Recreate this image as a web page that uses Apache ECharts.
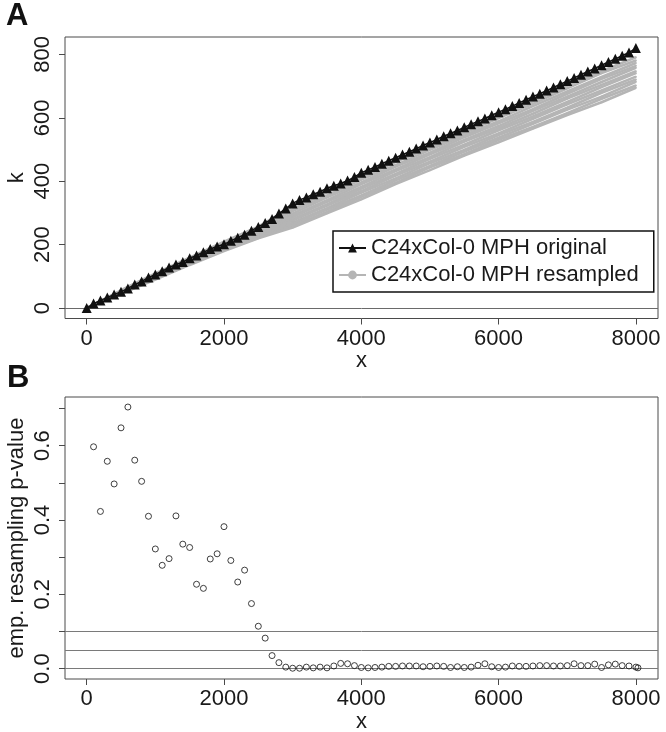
<!DOCTYPE html>
<html>
<head>
<meta charset="utf-8">
<script src="https://cdn.jsdelivr.net/npm/echarts@6/dist/echarts.min.js"></script>
<style>
html,body{margin:0;padding:0;background:#fff;}
#chart{width:666px;height:732px;}
</style>
</head>
<body>
<div id="chart"></div>
<script>
// ---------- Panel A data ----------
const xOriginal = [0,100,200,300,400,500,600,700,800,900,1000,1100,1200,1300,1400,1500,1600,1700,1800,1900,
  2000,2100,2200,2300,2400,2500,2600,2700,2800,2900,3000,3100,3200,3300,3400,3500,3600,3700,3800,3900,
  4000,4100,4200,4300,4400,4500,4600,4700,4800,4900,5000,5100,5200,5300,5400,5500,5600,5700,5800,5900,
  6000,6100,6200,6300,6400,6500,6600,6700,6800,6900,7000,7100,7200,7300,7400,7500,7600,7700,7800,7900,8000];
const kOriginal = [0,14,24,33,43,51,62,74,84,96,106,116,128,137,145,157,166,176,186,194,
  201,212,222,231,244,256,268,281,298,314,330,341,349,359,367,378,386,393,402,413,
  427,436,445,455,465,474,484,493,503,513,522,532,542,551,560,570,580,589,598,608,
  618,627,637,647,657,667,676,686,696,706,716,726,736,746,756,766,776,786,796,806,820];

const xResampled = [0,500,1000,1500,2000,2500,3000,3500,4000,4500,5000,5500,6000,6500,7000,7500,8000];
const kResampled = [
  [0,56,109,159,209,257,321,372,419,467,513,561,606,652,701,747,791],
  [0,54,106,157,205,252,311,365,411,461,505,552,599,644,693,741,781],
  [0,53,105,153,203,249,306,355,405,451,499,545,589,637,683,729,773],
  [0,52,103,152,199,243,298,349,396,446,490,539,583,627,676,723,764],
  [0,51,101,150,198,241,291,340,391,437,485,530,574,622,667,713,758],
  [0,50,100,149,195,238,287,335,382,432,476,525,567,613,661,704,747],
  [0,50,98,146,192,234,280,327,377,423,471,515,561,604,650,697,741],
  [0,49,97,145,190,232,276,323,369,418,462,509,551,597,643,686,730],
  [0,48,96,142,187,229,269,315,364,409,457,499,546,587,632,679,721],
  [0,47,94,141,185,226,266,311,355,403,448,494,537,581,626,667,714],
  [0,46,92,138,183,222,260,303,351,395,444,485,531,571,615,660,702],
  [0,45,90,136,180,220,254,299,343,391,435,481,523,566,609,649,695]
];

// ---------- Panel B data ----------
const xPval = [100,200,300,400,500,600,700,800,900,1000,1100,1200,1300,1400,1500,1600,1700,1800,1900,2000,
  2100,2200,2300,2400,2500,2600,2700,2800,2900,3000,3100,3200,3300,3400,3500,3600,3700,3800,3900,4000,
  4100,4200,4300,4400,4500,4600,4700,4800,4900,5000,5100,5200,5300,5400,5500,5600,5700,5800,5900,6000,
  6100,6200,6300,6400,6500,6600,6700,6800,6900,7000,7100,7200,7300,7400,7500,7600,7700,7800,7900,8000,8030];
const pValue = [0.597,0.423,0.558,0.497,0.648,0.704,0.561,0.504,0.410,0.322,0.278,0.296,0.411,0.335,0.326,0.227,0.216,0.295,0.309,0.382,
  0.291,0.233,0.265,0.175,0.114,0.082,0.035,0.016,0.004,0.001,0.001,0.004,0.002,0.004,0.002,0.007,0.014,0.013,0.008,0.003,
  0.002,0.003,0.004,0.006,0.006,0.007,0.007,0.007,0.005,0.006,0.007,0.006,0.003,0.005,0.003,0.004,0.009,0.013,0.005,0.003,
  0.004,0.007,0.006,0.006,0.007,0.008,0.008,0.007,0.007,0.008,0.013,0.008,0.008,0.012,0.003,0.010,0.012,0.008,0.007,0.004,0.002];
const thresholds = [0, 0.05, 0.1];

// ---------- Axis ticks ----------
const xTicks = [0,2000,4000,6000,8000];
const kTicks = [0,200,400,600,800];
const pTicks = [0,0.1,0.2,0.3,0.4,0.5,0.6,0.7];
const pLabels = [0,0.2,0.4,0.6];

const nameOriginal = 'C24xCol-0 MPH original';
const nameResampled = 'C24xCol-0 MPH resampled';

const FONT = 'Liberation Sans, Arial, Helvetica, sans-serif';
const TXT = '#1a1a1a';
const BOX = '#4a4a4a';

const chart = echarts.init(document.getElementById('chart'), null, {renderer:'canvas'});

function xAxisDef(gridIndex){
  return {
    type:'value', gridIndex, min:-316, max:8322,
    name:'x', nameLocation:'middle', nameGap:26,
    nameTextStyle:{fontFamily:FONT, fontSize:22, color:TXT},
    axisLine:{show:false, onZero:false},
    splitLine:{show:false},
    axisTick:{show:true, inside:false, length:6, customValues:xTicks, lineStyle:{color:BOX, width:1}},
    axisLabel:{show:true, margin:9, customValues:xTicks, fontFamily:FONT, fontSize:22, color:TXT,
      formatter:function(v){return String(v);}}
  };
}

const series = [];
kResampled.forEach(function(vals){
  series.push({
    name:nameResampled, type:'line', xAxisIndex:0, yAxisIndex:0,
    data: xResampled.map(function(x,i){return [x, vals[i]];}),
    symbol:'circle', symbolSize:2, showSymbol:true,
    lineStyle:{color:'#b5b5b5', width:2.6},
    itemStyle:{color:'#b5b5b5'},
    silent:true, z:2
  });
});
series.push({
  name:nameOriginal, type:'line', xAxisIndex:0, yAxisIndex:0,
  data: xOriginal.map(function(x,i){return [x, kOriginal[i]];}),
  symbol:'triangle', symbolSize:10, showSymbol:true,
  lineStyle:{color:'#111', width:1.5},
  itemStyle:{color:'#111'},
  z:5,
  markLine:{
    silent:true, symbol:['none','none'], label:{show:false},
    lineStyle:{color:'#6a6a6a', width:1, type:'solid'},
    data:[{yAxis:0}], animation:false
  }
});
series.push({
  name:'p', type:'scatter', xAxisIndex:1, yAxisIndex:1,
  data: xPval.map(function(x,i){return [x, pValue[i]];}),
  symbol:'circle', symbolSize:6,
  itemStyle:{color:'rgba(0,0,0,0)', borderColor:'#111', borderWidth:1},
  z:5,
  markLine:{
    silent:true, symbol:['none','none'], label:{show:false},
    lineStyle:{color:'#7a7a7a', width:1, type:'solid'},
    data: thresholds.map(function(t){return {yAxis:t};}), animation:false
  }
});

const option = {
  backgroundColor:'#fff',
  animation:false,
  grid:[
    {left:65, right:8, top:37, height:281.5, show:true, borderColor:BOX, borderWidth:1, backgroundColor:'transparent',
     containLabel:false, outerBoundsMode:'none'},
    {left:65, right:8, top:397, height:282, show:true, borderColor:BOX, borderWidth:1, backgroundColor:'transparent',
     containLabel:false, outerBoundsMode:'none'}
  ],
  xAxis:[xAxisDef(0), xAxisDef(1)],
  yAxis:[
    {
      type:'value', gridIndex:0, min:-33, max:855,
      name:'k', nameLocation:'middle', nameGap:37, nameRotate:90, nameMoveOverlap:false,
      nameTextStyle:{fontFamily:FONT, fontSize:22, color:TXT},
      axisLine:{show:false, onZero:false}, splitLine:{show:false},
      axisTick:{show:true, length:6, customValues:kTicks, lineStyle:{color:BOX, width:1}},
      axisLabel:{show:true, rotate:90, margin:11, customValues:kTicks, fontFamily:FONT, fontSize:22, color:TXT}
    },
    {
      type:'value', gridIndex:1, min:-0.028, max:0.731,
      name:'emp. resampling p-value', nameLocation:'middle', nameGap:37, nameRotate:90, nameMoveOverlap:false,
      nameTextStyle:{fontFamily:FONT, fontSize:22, color:TXT},
      axisLine:{show:false, onZero:false}, splitLine:{show:false},
      axisTick:{show:true, length:6, customValues:pTicks, lineStyle:{color:BOX, width:1}},
      axisLabel:{show:true, rotate:90, margin:11, customValues:pLabels, fontFamily:FONT, fontSize:22, color:TXT,
        formatter:function(v){return Number(v).toFixed(1);}}
    }
  ],
  legend:{
    data:[nameOriginal, nameResampled],
    orient:'vertical', left:333, top:231,
    padding:[5,15,5,5], itemGap:3,
    itemWidth:27, itemHeight:11,
    borderColor:'#111', borderWidth:1.5, backgroundColor:'#fff',
    selectedMode:false,
    textStyle:{fontFamily:FONT, fontSize:22, color:TXT, lineHeight:24}
  },
  graphic:[
    {type:'text', left:6, top:1, style:{text:'A', font:'bold 31px '+FONT, fill:'#111'}},
    {type:'text', left:7, top:363, style:{text:'B', font:'bold 31px '+FONT, fill:'#111'}}
  ],
  series:series
};
chart.setOption(option);
</script>
</body>
</html>
